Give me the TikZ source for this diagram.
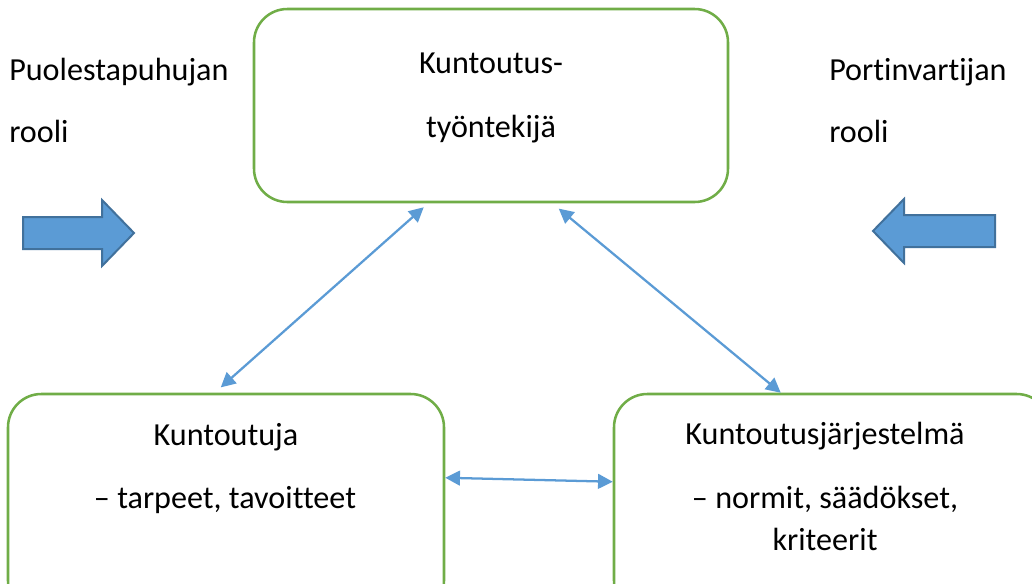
\documentclass[tikz,border=0pt]{standalone}
\usepackage{fontspec}
\setmainfont{Carlito}[Ligatures=NoCommon]
\usetikzlibrary{arrows.meta,calc}
\definecolor{boxgreen}{HTML}{70AD47}
\definecolor{linkblue}{HTML}{5B9BD5}
\definecolor{arrowedge}{HTML}{41719C}
\tikzset{
  rbox/.style={draw=boxgreen, line width=1.9pt, rounded corners=25pt, fill=white},
  txt/.style={anchor=base, inner sep=0pt, font=\fontsize{24.1}{29}\selectfont, text=black},
  sidetxt/.style={anchor=base west, inner sep=0pt, font=\fontsize{24.1}{29}\selectfont, text=black},
  link/.style={draw=linkblue, line width=1.7pt, {Triangle[length=11pt,width=11pt]}-{Triangle[length=11pt,width=11pt]}},
  blockarrow/.style={fill=linkblue, draw=arrowedge, line width=1.5pt, line join=miter}
}
\begin{document}
\begin{tikzpicture}[x=0.75pt,y=-0.75pt]
\useasboundingbox (0,0) rectangle (1032,583);
\clip (0,0) rectangle (1032,583);
% boxes
\node[rbox, minimum width=474*0.75pt, minimum height=193*0.75pt] (top) at (491,105.5) {};
\node[rbox, minimum width=436*0.75pt, minimum height=220*0.75pt] (kj) at (226,504) {};
\node[rbox, minimum width=436*0.75pt, minimum height=220*0.75pt] (kjs) at (832,504) {};
% texts in boxes
\node[txt] (t1) at (491,73) {Kuntoutus-};
\node[txt] (t2) at (491,137) {työntekijä};
\node[txt] (l1) at (226,445) {Kuntoutuja};
\node[txt] (l2) at (225,508) {– tarpeet, tavoitteet};
\node[txt] (r1) at (825,444) {Kuntoutusjärjestelmä};
\node[txt] (r2) at (825,508) {– normit, säädökset,};
\node[txt] (r3) at (825,550) {kriteerit};
% side texts
\node[sidetxt] (s1) at (9,80) {Puolestapuhujan};
\node[sidetxt] (s2) at (9,142) {rooli};
\node[sidetxt] (s3) at (829,80) {Portinvartijan};
\node[sidetxt] (s4) at (829,142) {rooli};
% block arrows
\draw[blockarrow] (23,217) -- (102,217) -- (102,200) -- (134,233) -- (102,266) -- (102,249) -- (23,249) -- cycle;
\draw[blockarrow] (995,215) -- (904,215) -- (904,199) -- (873,231) -- (904,263) -- (904,247) -- (995,247) -- cycle;
% connectors
\draw[link] ([xshift=171*0.75pt,yshift=-3pt]top.south west) -- ([xshift=214*0.75pt,yshift=4pt]kj.north west);
\draw[link] ([xshift=306*0.75pt,yshift=-4pt]top.south west) -- ([xshift=168*0.75pt]kjs.north west);
\draw[link] ([yshift=-(479-394)*0.75pt]kj.north east) -- ([yshift=-(483-394)*0.75pt]kjs.north west);
\end{tikzpicture}
\end{document}
